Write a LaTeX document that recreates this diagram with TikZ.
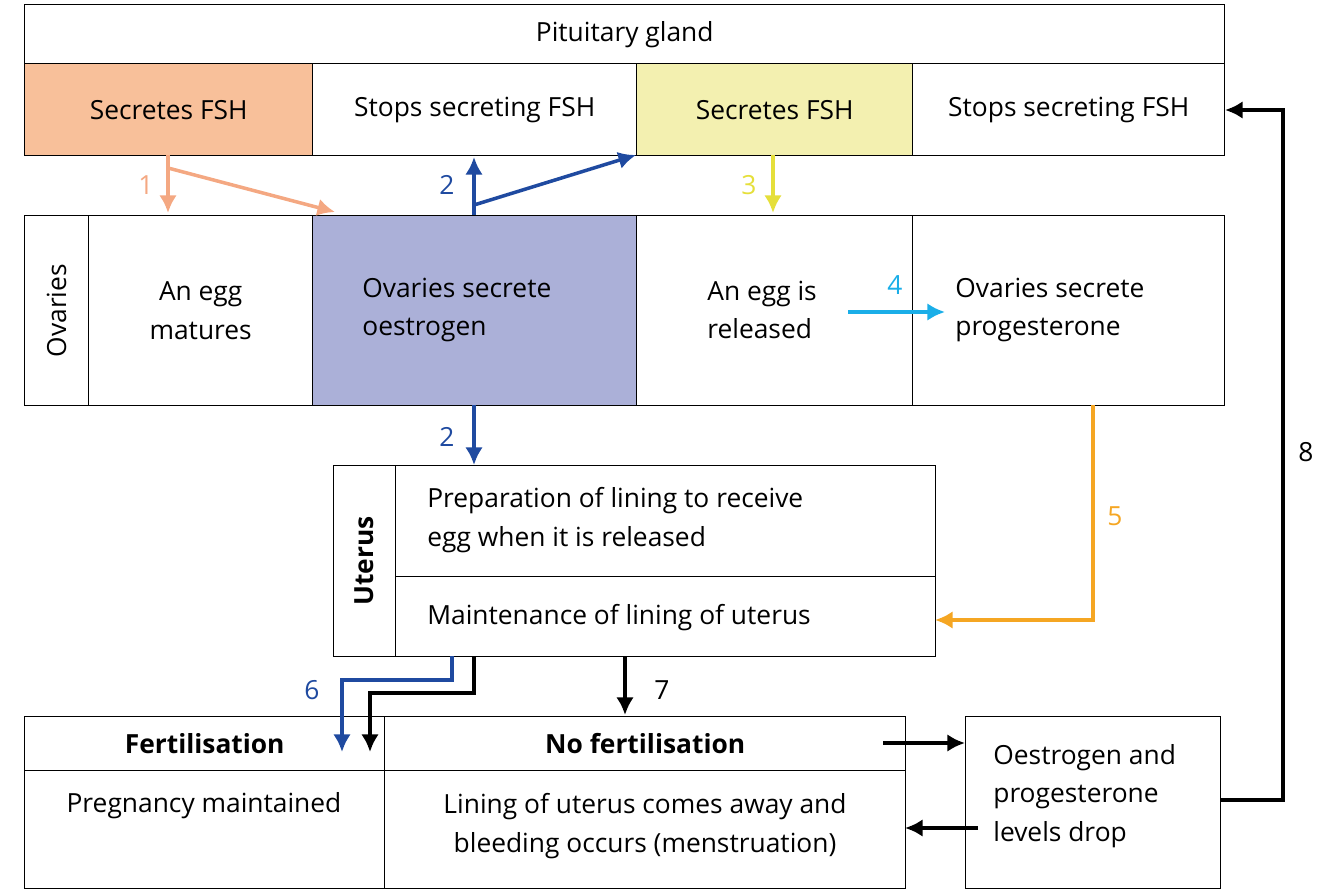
\documentclass[tikz,border=0pt]{standalone}
\usepackage{fontspec}
\setmainfont{Open Sans}
\usetikzlibrary{calc}
\definecolor{fshorange}{HTML}{F8C09A}
\definecolor{fshyellow}{HTML}{F3F0B0}
\definecolor{oestblue}{HTML}{ABB0D8}
\definecolor{aone}{HTML}{F4A882}
\definecolor{atwo}{HTML}{1F4AA0}
\definecolor{athree}{HTML}{E5DF3A}
\definecolor{afour}{HTML}{1AAEE8}
\definecolor{afive}{HTML}{F5A623}
\tikzset{
  box/.style 2 args={draw, line width=0.8pt, anchor=north west, inner sep=0pt,
    minimum width=#1*0.02cm, minimum height=#2*0.02cm},
  txt/.style={font=\fontsize{15}{22}\selectfont, align=left, anchor=west, inner sep=0pt},
  ctxt/.style={font=\fontsize{15}{22}\selectfont, align=center, inner sep=0pt},
  num/.style={font=\fontsize{15}{18}\selectfont, inner sep=0pt},
  arr/.style={line width=2pt, -{Latex[length=10pt,width=10pt]}}
}
\usetikzlibrary{arrows.meta}
\begin{document}
\begin{tikzpicture}[x=0.02cm,y=-0.02cm]
\useasboundingbox (0,0) rectangle (1335,891);

% pituitary gland
\node[box={1200}{59}] (pit) at (24,4) {};
\node[ctxt] at (pit.center) {Pituitary gland};
\node[box={288}{92},fill=fshorange] (p1) at (24,63) {};
\node[box={324}{92}] (p2) at (312,63) {};
\node[box={276}{92},fill=fshyellow] (p3) at (636,63) {};
\node[box={312}{92}] (p4) at (912,63) {};
\node[ctxt] at (p1.center) {Secretes FSH};
\node[ctxt] at (p2.center) {Stops secreting FSH};
\node[ctxt] at (p3.center) {Secretes FSH};
\node[ctxt] at (p4.center) {Stops secreting FSH};

% ovaries
\node[box={64}{190}] (ov0) at (24,215) {};
\node[ctxt,rotate=90] at (ov0.center) {Ovaries};
\node[box={224}{190}] (ov1) at (88,215) {};
\node[box={324}{190},fill=oestblue] (ov2) at (312,215) {};
\node[box={276}{190}] (ov3) at (636,215) {};
\node[box={312}{190}] (ov4) at (912,215) {};
\node[ctxt] at (ov1.center) {An egg\\matures};
\node[txt] at (362,310) {Ovaries secrete\\oestrogen};
\node[txt] (egg) at (707,310) {An egg is\\released};
\node[txt] (prog) at (955,310) {Ovaries secrete\\progesterone};

% uterus
\node[box={62}{191}] (ut0) at (333,465) {};
\node[ctxt,rotate=90,font=\fontsize{15}{18}\selectfont\bfseries] at (ut0.center) {Uterus};
\node[box={540}{111}] (ut1) at (395,465) {};
\node[box={540}{80}] (ut2) at (395,576) {};
\node[txt] at (427,520) {Preparation of lining to receive\\egg when it is released};
\node[txt] at (427,618) {Maintenance of lining of uterus};

% bottom
\node[box={360}{54}] (fh) at (24,716) {};
\node[box={360}{118}] (fb) at (24,770) {};
\node[box={521}{54}] (nh) at (384,716) {};
\node[box={521}{118}] (nb) at (384,770) {};
\node[ctxt,font=\fontsize{15}{18}\selectfont\bfseries] at (fh.center) {Fertilisation};
\node[ctxt,font=\fontsize{15}{18}\selectfont\bfseries] at (nh.center) {No fertilisation};
\node[ctxt] at (204,806) {Pregnancy maintained};
\node[ctxt] at (645,826) {Lining of uterus comes away and\\bleeding occurs (menstruation)};
\node[box={255}{172}] (drop) at (965,716) {};
\node[txt] at (993,796) {Oestrogen and\\progesterone\\levels drop};

% arrows
\draw[arr,aone] (168,155) -- (168,213);
\draw[arr,aone] (168,168) -- (335,212);
\node[num,aone] at (146,185) {1};
\draw[arr,atwo] (474,215) -- (474,157);
\draw[arr,atwo] (474,205) -- (636,155);
\node[num,atwo] at (447,185) {2};
\draw[arr,athree] (773,155) -- (773,213);
\node[num,athree] at (749,185) {3};
\draw[arr,afour] (848,312) -- (945,312);
\node[num,afour] at (895,285) {4};
\draw[arr,atwo] (474,405) -- (474,465);
\node[num,atwo] at (447,437) {2};
\draw[arr,afive] (1093,405) -- (1093,620) -- (935,620);
\node[num,afive] at (1115,516) {5};
\draw[arr,atwo] (452,656) -- (452,680) -- (342,680) -- (342,752);
\node[num,atwo] at (312,690) {6};
\draw[arr,black] (474,656) -- (474,693) -- (370,693) -- (370,752);
\draw[arr,black] (625,656) -- (625,715);
\node[num] at (662,690) {7};
\draw[arr,black] (883,743) -- (965,743);
\draw[arr,black] (978,828) -- (905,828);
\draw[arr,black] (1220,800) -- (1283,800) -- (1283,110) -- (1225,110);
\node[num] at (1306,452) {8};
\end{tikzpicture}
\end{document}
